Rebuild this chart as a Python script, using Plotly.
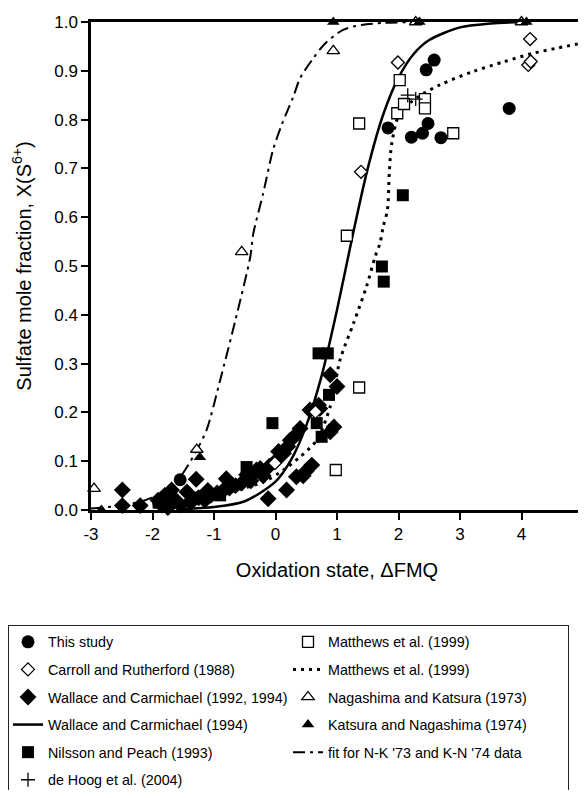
import plotly.graph_objects as go

# ---------------- data ----------------
this_study_x = [2.58, 2.45, 1.83, 2.48, 2.21, 2.39, 2.69, 3.80, -1.55]
this_study_y = [0.922, 0.902, 0.783, 0.792, 0.764, 0.772, 0.763, 0.823, 0.062]

carroll_x = [1.99, 4.14, 4.11, 4.15, 1.39, -0.01, 0.65]
carroll_y = [0.917, 0.965, 0.912, 0.919, 0.693, 0.096, 0.201]

wallace_x = [-2.49, -2.49, -2.20, -1.91, -1.85, -1.75, -1.69, -1.62, -1.55, -1.44,
             -1.38, -1.29, -1.25, -1.15, -1.05, -0.95, -0.85, -0.80, -0.75, -0.65,
             -0.55, -0.47, -0.40, -0.31, -0.25, -0.20, -0.12, -0.10, 0.00, 0.05,
             0.13, 0.18, 0.20, 0.24, 0.30, 0.34, 0.40, 0.45, 0.50, 0.56,
             0.59, 0.70, 0.72, 0.89, 0.89, 1.00, 0.95, -1.80, -1.70, -1.10]
wallace_y = [0.041, 0.009, 0.009, 0.020, 0.010, 0.005, 0.041, 0.020, 0.010, 0.037,
             0.015, 0.063, 0.025, 0.020, 0.030, 0.035, 0.040, 0.064, 0.045, 0.050,
             0.055, 0.072, 0.060, 0.082, 0.085, 0.070, 0.023, 0.090, 0.100, 0.120,
             0.116, 0.041, 0.130, 0.143, 0.150, 0.068, 0.167, 0.070, 0.080, 0.205,
             0.092, 0.215, 0.208, 0.277, 0.160, 0.253, 0.170, 0.030, 0.015, 0.040]

nilsson_x = [2.07, 1.73, 1.76, 0.70, 0.85, -0.05, 0.87, 0.67, 0.75, -0.47, -1.30, -1.90, -0.90]
nilsson_y = [0.645, 0.499, 0.468, 0.321, 0.321, 0.178, 0.236, 0.178, 0.150, 0.088, 0.025, 0.015, 0.030]

matthews_x = [2.02, 1.36, 1.98, 2.09, 2.43, 2.43, 2.89, 1.16, 1.36, 0.98]
matthews_y = [0.881, 0.792, 0.813, 0.832, 0.842, 0.823, 0.772, 0.562, 0.251, 0.082]

dehoog_x = [2.15, 2.28]
dehoog_y = [0.850, 0.842]

nagashima_x = [-2.95, -1.28, -0.55, 0.94, 2.28, 4.00]
nagashima_y = [0.044, 0.124, 0.529, 0.941, 1.000, 1.000]

katsura_x = [-2.83, -1.23, 0.94, 2.34, 4.08]
katsura_y = [0.000, 0.108, 1.000, 1.000, 1.000]

# curves
wc_curve_x = [-1.5, -1.0, -0.5, 0.0, 0.25, 0.5, 0.75, 1.0, 1.25, 1.5, 1.75, 2.0, 2.25, 2.5, 3.0, 3.5, 4.0]
wc_curve_y = [0.002, 0.006, 0.018, 0.058, 0.102, 0.173, 0.275, 0.41, 0.56, 0.70, 0.81, 0.886, 0.935, 0.963, 0.989, 0.997, 1.0]

mat_curve_x = [-2.0, -1.5, -1.0, -0.5, -0.14, 0.13, 0.40, 0.67, 0.89, 1.05, 1.27, 1.48, 1.62, 1.70,
               1.75, 1.82, 1.85, 1.89, 2.02, 2.30, 2.67, 3.20, 3.70, 4.19, 4.60, 5.0]
mat_curve_y = [0.012, 0.020, 0.030, 0.045, 0.061, 0.082, 0.109, 0.143, 0.212, 0.308, 0.383, 0.458, 0.519, 0.547,
               0.580, 0.615, 0.690, 0.751, 0.813, 0.845, 0.871, 0.898, 0.918, 0.936, 0.947, 0.957]

nk_curve_x = [-3.0, -2.6, -2.2, -1.93, -1.55, -1.28, -1.12, -0.90, -0.65, -0.41, -0.36, -0.20, -0.04,
              0.10, 0.29, 0.40, 0.61, 0.80, 1.10, 1.40, 1.75, 2.30]
nk_curve_y = [0.003, 0.008, 0.017, 0.030, 0.068, 0.123, 0.164, 0.266, 0.39, 0.519, 0.567, 0.649, 0.738,
              0.789, 0.847, 0.885, 0.925, 0.955, 0.984, 0.994, 0.998, 1.0]

x_ticks = [-3, -2, -1, 0, 1, 2, 3, 4, 5]
y_ticks = [0.0, 0.1, 0.2, 0.3, 0.4, 0.5, 0.6, 0.7, 0.8, 0.9, 1.0]

# ---------------- figure ----------------
FONT = "Liberation Sans, Arial, sans-serif"
fig = go.Figure()

def pts(x, y, name, symbol, size, fill=True, rank=1):
    fig.add_trace(go.Scatter(
        x=x, y=y, mode="markers", name=name, legendrank=rank, legendgroup=f"g{rank:02d}",
        cliponaxis=False,
        marker=dict(symbol=symbol, size=size,
                    color="black" if fill else "white",
                    line=dict(color="black", width=1.3 if not fill else 0))))

def curve(x, y, name, dash, width, rank):
    fig.add_trace(go.Scatter(
        x=x, y=y, mode="lines", name=name, legendrank=rank, legendgroup=f"g{rank:02d}",
        line=dict(color="black", width=width, dash=dash, shape="spline", smoothing=0.8)))

curve(wc_curve_x, wc_curve_y, "Wallace and Carmichael (1994)", "solid", 2.5, 7)
curve(mat_curve_x, mat_curve_y, "Matthews et al. (1999)", "3px,5px", 3, 4)
curve(nk_curve_x, nk_curve_y, "fit for N-K '73 and K-N '74 data", "12px,5px,3px,5px", 2, 10)

pts(wallace_x, wallace_y, "Wallace and Carmichael (1992, 1994)", "diamond", 13, True, 5)
pts(nilsson_x, nilsson_y, "Nilsson and Peach (1993)", "square", 12, True, 9)
pts(this_study_x, this_study_y, "This study", "circle", 13, True, 1)
pts(carroll_x, carroll_y, "Carroll and Rutherford (1988)", "diamond", 10, False, 3)
pts(matthews_x, matthews_y, "Matthews et al. (1999)", "square", 11, False, 2)
pts(nagashima_x, nagashima_y, "Nagashima and Katsura (1973)", "triangle-up", 11, False, 6)
pts(katsura_x, katsura_y, "Katsura and Nagashima (1974)", "triangle-up", 11, True, 8)
fig.add_trace(go.Scatter(
    x=dehoog_x, y=dehoog_y, mode="markers", name="de Hoog et al. (2004)",
    legendrank=11, legendgroup="g11", cliponaxis=False,
    marker=dict(symbol="cross-thin", size=10, color="black", line=dict(color="black", width=1.3))))

# the page adds an 8px body margin, so the figure is 8px smaller than the window
W, H = 578, 782
L, R, T = 83, 3, 14
B = H - 502
PH = H - T - B
PW = W - L - R

fig.update_layout(
    width=W, height=H,
    margin=dict(l=L, r=R, t=T, b=B, autoexpand=False),
    paper_bgcolor="white", plot_bgcolor="white",
    font=dict(family=FONT, color="black", size=17),
    showlegend=True,
    legend=dict(
        orientation="h", xref="paper", yref="paper",
        x=-L / PW, y=(502 - 617) / PH, xanchor="left", yanchor="top",
        entrywidth=235, entrywidthmode="pixels",
        font=dict(family=FONT, size=14.3, color="black"),
        bordercolor="#222", borderwidth=1, bgcolor="white",
        traceorder="grouped", tracegroupgap=6, itemwidth=30,
    ),
    xaxis=dict(
        range=[-3, 5], tickvals=x_ticks, ticktext=[str(v) for v in x_ticks],
        showgrid=False, zeroline=False, showline=True, linecolor="black", linewidth=2.5,
        mirror=True, ticks="outside", ticklen=7, tickwidth=2, tickcolor="black",
        tickfont=dict(size=17), ticklabeloverflow="allow",
        title=dict(text="Oxidation state, \u0394FMQ", font=dict(size=20), standoff=20),
    ),
    yaxis=dict(
        range=[0, 1], tickvals=y_ticks, ticktext=[f"{v:.1f}" for v in y_ticks],
        showgrid=False, zeroline=False, showline=True, linecolor="black", linewidth=2.5,
        mirror=True, ticks="outside", ticklen=7, tickwidth=2, tickcolor="black",
        tickfont=dict(size=17), ticklabeloverflow="allow",
        title=dict(text="Sulfate mole fraction, X(S<sup>6+</sup>)", font=dict(size=20), standoff=18),
    ),
)

fig.write_html("out.html")
